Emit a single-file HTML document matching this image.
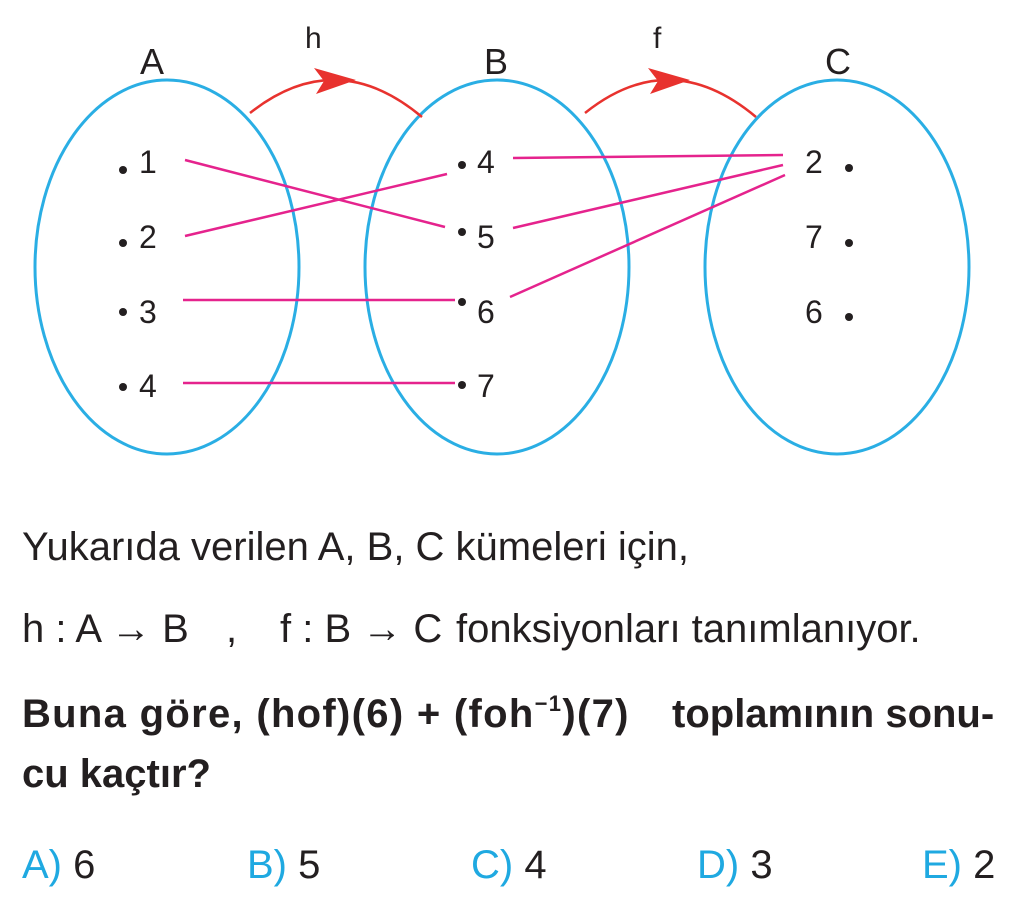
<!DOCTYPE html>
<html><head><meta charset="utf-8"><style>
body{margin:0;width:1019px;height:898px;background:#fff;font-family:"Liberation Sans",sans-serif;color:#231f20;position:relative;overflow:hidden}
.t{position:absolute;white-space:nowrap;font-size:40px;line-height:46px}
.b{font-weight:bold;font-size:40px}
.bl{color:#1fa9e1}
.sp{font-size:22px;position:relative;top:-16px;line-height:0}
</style></head><body>
<svg width="1019" height="480" style="position:absolute;left:0;top:0" font-family="Liberation Sans, sans-serif" font-size="36" fill="#231f20">
<g fill="none" stroke="#2aaee4" stroke-width="3">
<ellipse cx="167" cy="267" rx="132" ry="187"/>
<ellipse cx="497" cy="267" rx="132" ry="187"/>
<ellipse cx="837" cy="267" rx="132" ry="187"/>
</g>
<g fill="none" stroke="#e8322e" stroke-width="2.5">
<path d="M250 113 Q336 45 422 117"/>
<path d="M585 113 Q670 45 756 117"/>
</g>
<polygon points="314,68 356,80 316,94 324,81" fill="#e8322e"/>
<polygon points="648,68 690,80 650,94 658,81" fill="#e8322e"/>
<g stroke="#e5238d" stroke-width="2.5">
<line x1="185" y1="160" x2="445" y2="227"/>
<line x1="185" y1="236" x2="447" y2="174"/>
<line x1="183" y1="300" x2="455" y2="300"/>
<line x1="183" y1="383" x2="455" y2="383"/>
<line x1="513" y1="158" x2="783" y2="155"/>
<line x1="513" y1="228" x2="783" y2="165"/>
<line x1="510" y1="297" x2="785" y2="175"/>
</g>
<text x="140" y="74">A</text><text x="305" y="48" font-size="30">h</text>
<text x="484" y="74">B</text><text x="653" y="48" font-size="30">f</text>
<text x="825" y="74">C</text>
<g font-size="32">
<text x="139" y="173">1</text><text x="139" y="248">2</text><text x="139" y="323">3</text><text x="139" y="397">4</text>
<text x="477" y="173">4</text><text x="477" y="248">5</text><text x="477" y="323">6</text><text x="477" y="397">7</text>
<text x="805" y="173">2</text><text x="805" y="248">7</text><text x="805" y="323">6</text>
</g>
<g>
<circle cx="123" cy="170" r="4"/><circle cx="123" cy="243" r="4"/><circle cx="123" cy="312" r="4"/><circle cx="123" cy="387" r="4"/>
<circle cx="462" cy="165" r="4"/><circle cx="462" cy="232" r="4"/><circle cx="462" cy="302" r="4"/><circle cx="462" cy="385" r="4"/>
<circle cx="849" cy="168" r="4"/><circle cx="849" cy="243" r="4"/><circle cx="849" cy="317" r="4"/>
</g>
</svg>
<div class="t" style="left:22px;top:524px">Yukarıda verilen A, B, C kümeleri için,</div>
<div class="t" style="left:22px;top:606px">h : A → B</div>
<div class="t" style="left:226px;top:606px">,</div>
<div class="t" style="left:280px;top:606px">f : B → C</div>
<div class="t" style="left:456px;top:606px">fonksiyonları tanımlanıyor.</div>
<div class="t b" style="left:22px;top:691px;letter-spacing:1.3px">Buna göre, (hof)(6) + (foh<span class="sp">−1</span>)(7)</div>
<div class="t b" style="left:672px;top:691px">toplamının sonu-</div>
<div class="t b" style="left:22px;top:751px">cu kaçtır?</div>
<div class="t" style="left:22px;top:842px"><span class="bl">A)</span> 6</div>
<div class="t" style="left:247px;top:842px"><span class="bl">B)</span> 5</div>
<div class="t" style="left:471px;top:842px"><span class="bl">C)</span> 4</div>
<div class="t" style="left:697px;top:842px"><span class="bl">D)</span> 3</div>
<div class="t" style="left:922px;top:842px"><span class="bl">E)</span> 2</div>
</body></html>
